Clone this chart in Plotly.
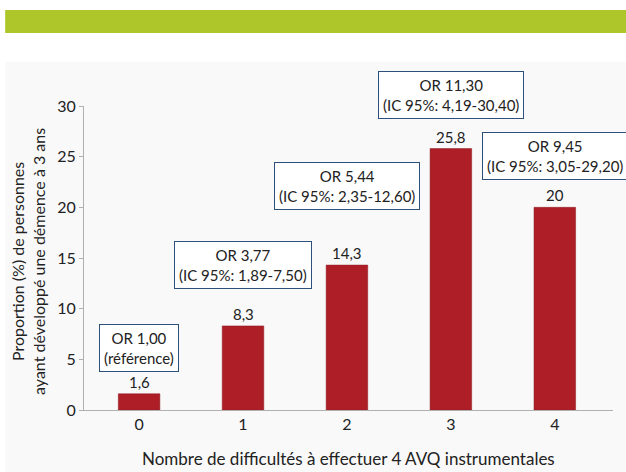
import plotly.graph_objects as go

categories = ["0", "1", "2", "3", "4"]
values = [1.6, 8.3, 14.3, 25.8, 20]
value_labels = ["1,6", "8,3", "14,3", "25,8", "20"]
or_labels = [
    "OR 1,00<br>(référence)",
    "OR 3,77<br>(IC 95%: 1,89-7,50)",
    "OR 5,44<br>(IC 95%: 2,35-12,60)",
    "OR 11,30<br>(IC 95%: 4,19-30,40)",
    "OR 9,45<br>(IC 95%: 3,05-29,20)",
]
y_ticks = [0, 5, 10, 15, 20, 25, 30]

# style: pixel offsets of the OR boxes above bar tops
box_shift = [22, 37, 55, 30, 27]

FONT = "Lato, 'Open Sans', sans-serif"

fig = go.Figure()
fig.add_trace(go.Bar(
    x=list(range(len(categories))),
    y=values,
    width=0.4,
    marker=dict(color="#ad1e27", line=dict(color="#8e1a20", width=0.5)),
    hoverinfo="skip",
))

annotations = []
for i, (v, lab) in enumerate(zip(values, value_labels)):
    annotations.append(dict(
        x=i, y=v, xref="x", yref="y", text=lab, showarrow=False,
        yanchor="bottom", yshift=1, font=dict(size=15, color="#222", family=FONT),
    ))
for i, (v, lab) in enumerate(zip(values, or_labels)):
    annotations.append(dict(
        x=i, y=v, xref="x", yref="y", text=lab, showarrow=False,
        yanchor="bottom", yshift=box_shift[i], bordercolor="#2c4f7c", borderwidth=1,
        borderpad=4, bgcolor="white", align="center",
        font=dict(size=15, color="#222", family=FONT),
    ))
annotations.append(dict(
    x=0.5, y=-0.158, xref="paper", yref="paper", showarrow=False,
    text="Nombre de difficultés à effectuer 4 AVQ instrumentales",
    yanchor="middle", font=dict(size=17, color="#222", family=FONT),
))
annotations.append(dict(
    x=-0.106, y=0.49, xref="paper", yref="paper", showarrow=False, textangle=-90,
    text="Proportion (%) de personnes<br>ayant développé une démence à 3 ans",
    xanchor="center", yanchor="middle", font=dict(size=16, color="#222", family=FONT),
))

shapes = [
    dict(type="rect", xref="paper", yref="paper", x0=-0.149, x1=1.03, y0=-0.21, y1=1.145,
         fillcolor="#f9f9f9", line=dict(width=0), layer="below"),
    dict(type="rect", xref="paper", yref="paper", x0=-0.149, x1=1.03, y0=1.240, y1=1.316,
         fillcolor="#aec62a", line=dict(width=0), layer="below"),
]

fig.update_layout(
    width=626, height=472,
    margin=dict(l=84, r=13, t=106, b=62),
    paper_bgcolor="white", plot_bgcolor="rgba(0,0,0,0)",
    showlegend=False, bargap=0.6,
    font=dict(family=FONT, size=15, color="#222"),
    xaxis=dict(
        range=[-0.53, 4.56], tickmode="array", tickvals=list(range(len(categories))),
        ticktext=categories, showgrid=False, zeroline=False, showline=True,
        linecolor="#b0b0b0", linewidth=1, ticks="", tickfont=dict(size=16),
    ),
    yaxis=dict(
        range=[0, 30], tickmode="array", tickvals=y_ticks, showgrid=False, zeroline=False,
        showline=True, linecolor="#b0b0b0", linewidth=1, ticks="outside", ticklen=4,
        tickcolor="#b0b0b0", tickfont=dict(size=16),
    ),
    annotations=annotations, shapes=shapes,
)

fig.write_html(
    "out.html",
    config={"displayModeBar": False},
    post_script="document.body.style.margin='0';document.body.style.padding='0';document.body.style.overflow='hidden';",
)
